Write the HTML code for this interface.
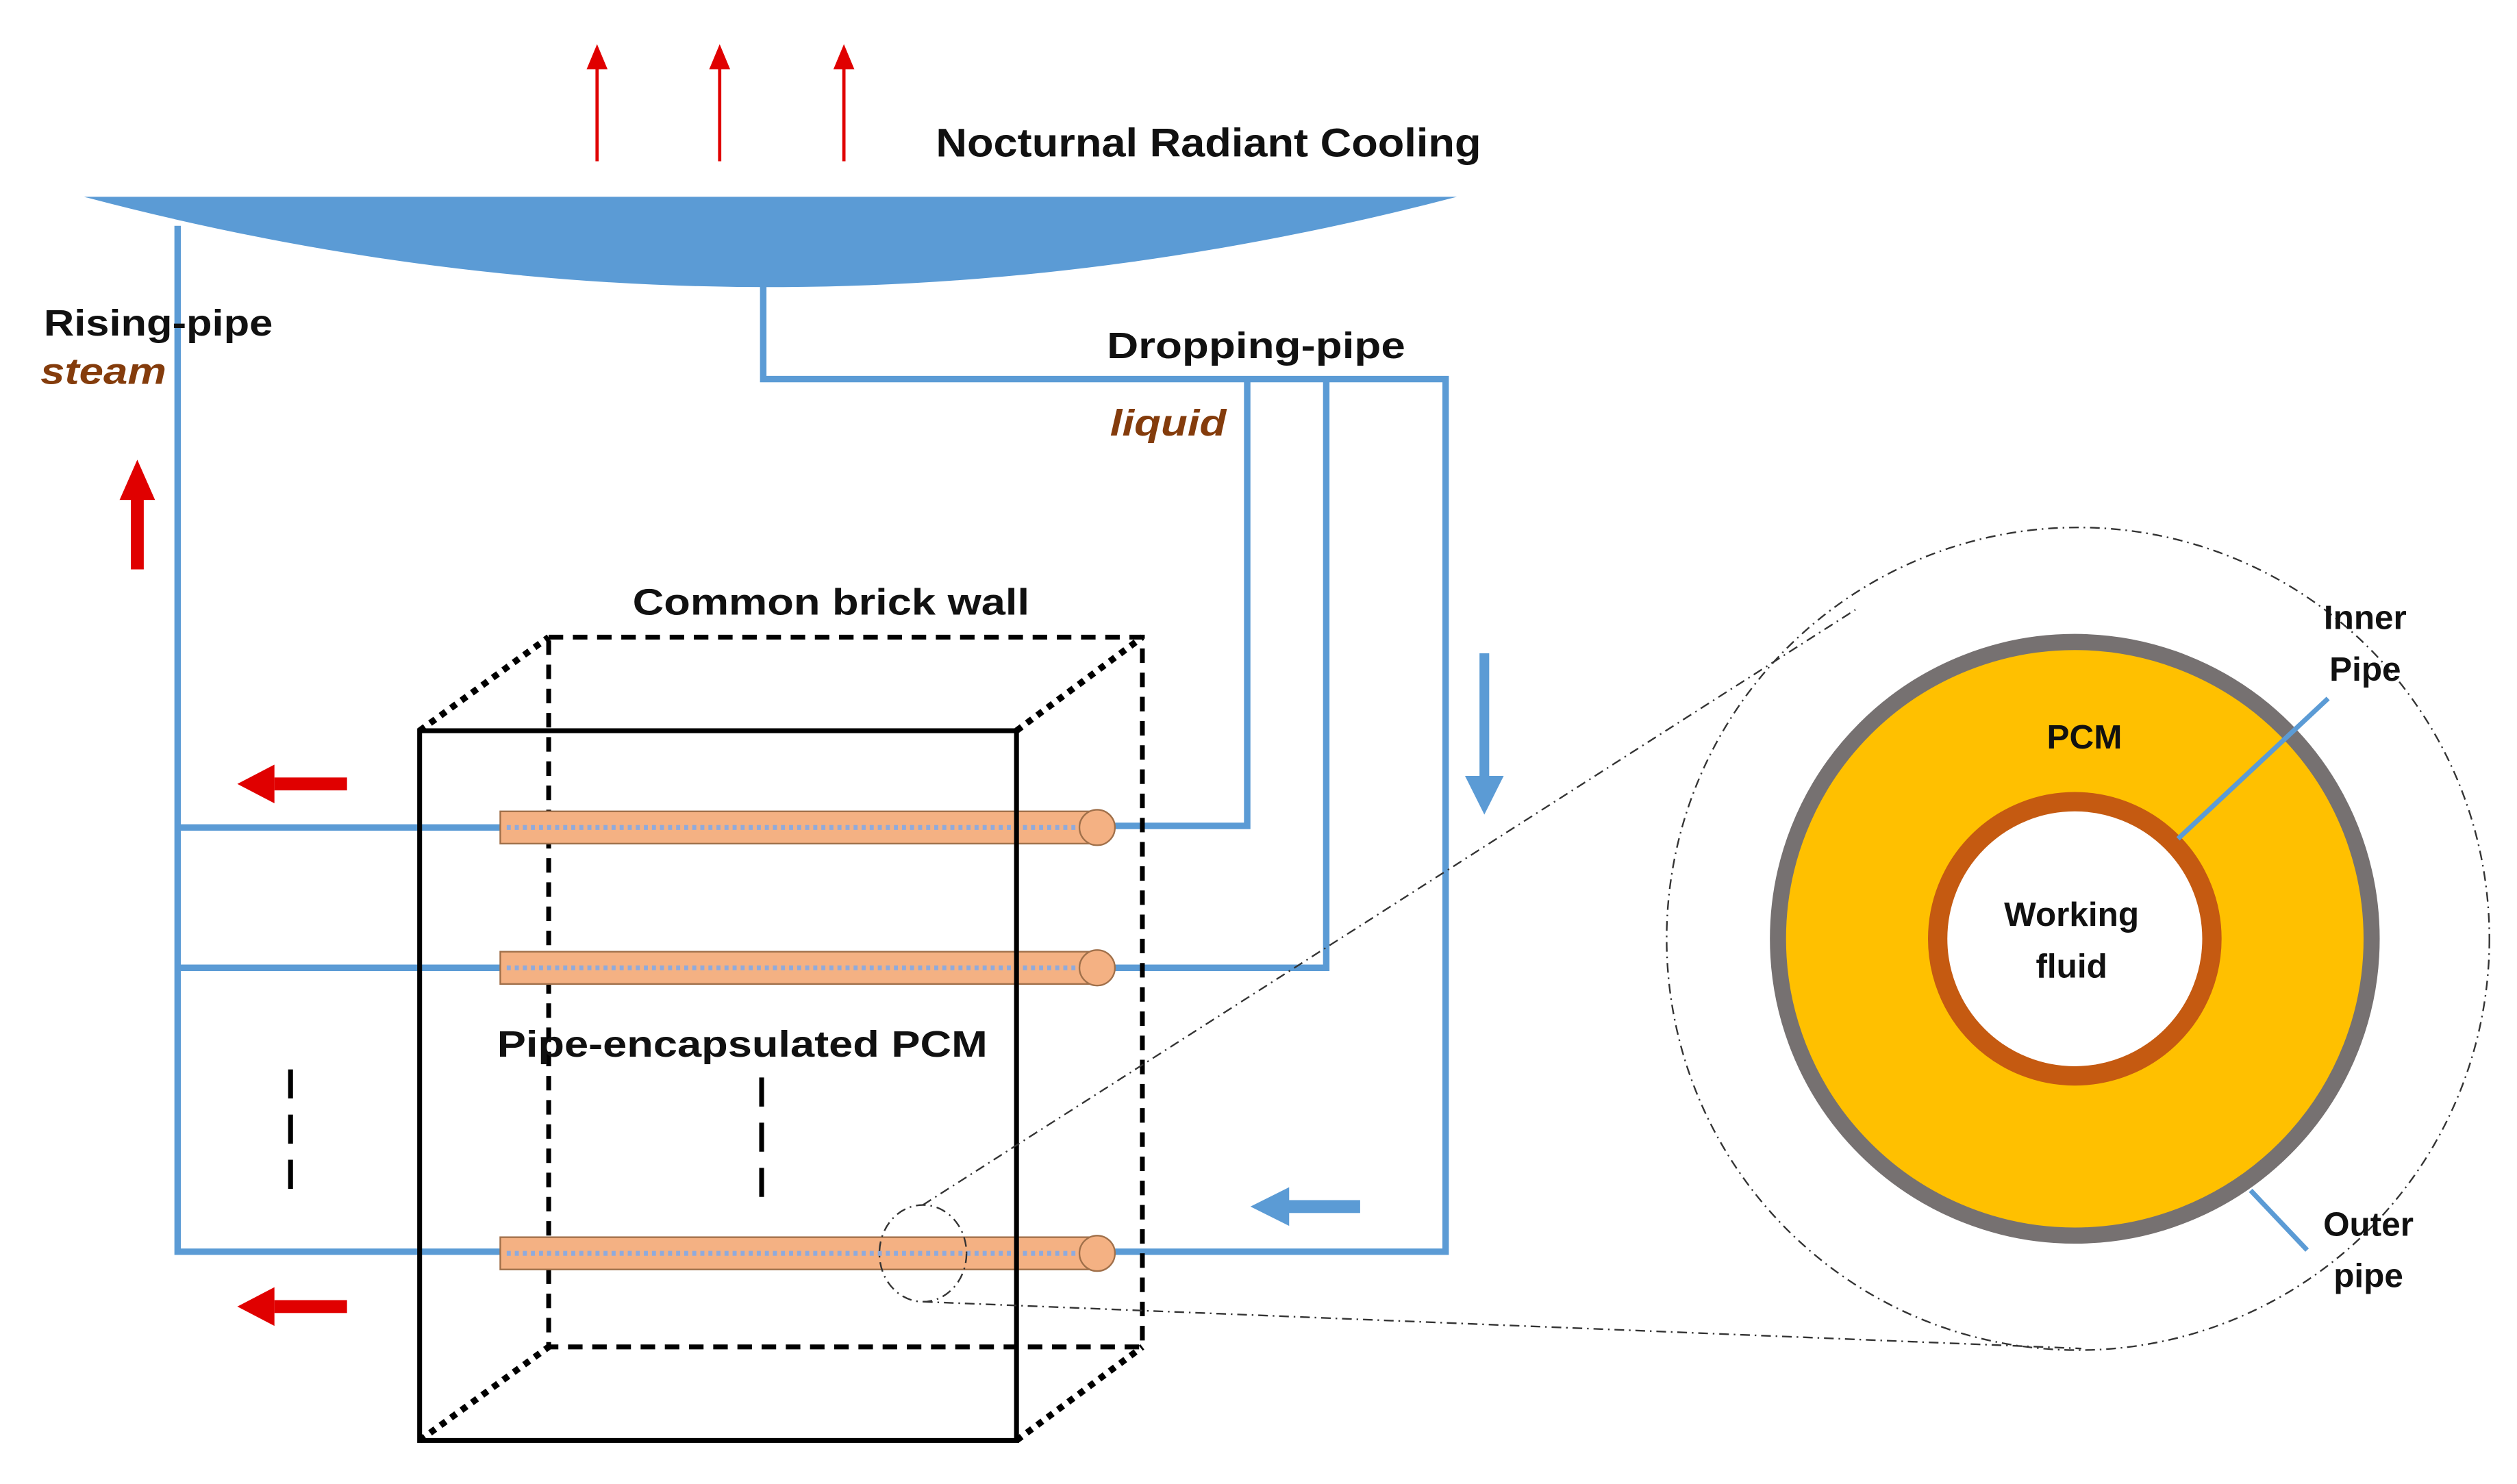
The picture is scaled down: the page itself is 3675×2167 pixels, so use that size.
<!DOCTYPE html>
<html><head><meta charset="utf-8"><style>html,body{margin:0;padding:0;background:#fff}svg{display:block}</style></head>
<body>
<svg width="3675" height="2167" viewBox="0 0 1560 920" xmlns="http://www.w3.org/2000/svg" font-family="'Liberation Sans', sans-serif" font-weight="bold">
<rect width="1560" height="920" fill="#fff"/>
<!-- thin red arrows -->
<g stroke="#e00000" stroke-width="2" fill="#e00000">
<line x1="370" y1="100" x2="370" y2="40"/><polygon points="365,42 375,42 370,30" />
<line x1="446" y1="100" x2="446" y2="40"/><polygon points="441,42 451,42 446,30" />
<line x1="523" y1="100" x2="523" y2="40"/><polygon points="518,42 528,42 523,30" />
</g>
<text x="580" y="97" font-size="25" textLength="338" lengthAdjust="spacingAndGlyphs" fill="#111">Nocturnal Radiant Cooling</text>
<!-- dish -->
<path d="M52,122 L903,122 Q475,234 52,122 Z" fill="#5b9bd5"/>
<!-- pipes -->
<g stroke="#5b9bd5" stroke-width="4" fill="none">
<polyline points="110,140 110,776 310,776"/>
<line x1="110" y1="513" x2="310" y2="513"/>
<line x1="110" y1="600" x2="310" y2="600"/>
<polyline points="473,175 473,235 896,235 896,776 690,776"/>
<polyline points="773,235 773,512 690,512"/>
<polyline points="822,235 822,600 690,600"/>
</g>
<text x="27" y="208" font-size="23" textLength="142" lengthAdjust="spacingAndGlyphs" fill="#111">Rising-pipe</text>
<text x="25" y="238" font-size="23" font-style="italic" textLength="78" lengthAdjust="spacingAndGlyphs" fill="#843c0c">steam</text>
<text x="686" y="222" font-size="23" textLength="185" lengthAdjust="spacingAndGlyphs" fill="#111">Dropping-pipe</text>
<text x="688" y="270" font-size="23" font-style="italic" textLength="72" lengthAdjust="spacingAndGlyphs" fill="#843c0c">liquid</text>
<!-- thick arrows -->
<g fill="#e00000">
<rect x="81" y="306" width="8" height="47"/><polygon points="74,310 96,310 85,285"/>
<rect x="170" y="482" width="45" height="8"/><polygon points="170,474 170,498 147,486"/>
<rect x="170" y="806" width="45" height="8"/><polygon points="170,798 170,822 147,810"/>
</g>
<g fill="#5b9bd5">
<rect x="917" y="405" width="6" height="78"/><polygon points="908,481 932,481 920,505"/>
<rect x="797" y="744" width="46" height="8"/><polygon points="799,736 799,760 775,748"/>
</g>
<!-- box -->
<g stroke="#000" fill="none">
<rect x="340" y="395" width="368" height="440" stroke-width="3" stroke-dasharray="9,6"/>
<g stroke-width="4" stroke-dasharray="4,4">
<line x1="260" y1="453" x2="340" y2="395"/><line x1="630" y1="453" x2="708" y2="395"/>
<line x1="260" y1="893" x2="340" y2="835"/><line x1="630" y1="893" x2="708" y2="835"/>
</g>
<line x1="180" y1="663" x2="180" y2="740" stroke-width="3" stroke-dasharray="18,10"/>
<line x1="472" y1="668" x2="472" y2="745" stroke-width="3" stroke-dasharray="18,10"/>
</g>
<!-- PCM pipes -->
<g>
<g id="p1">
<rect x="310" y="503" width="370" height="20" fill="#f4b183" stroke="#a0704a" stroke-width="1"/>
<line x1="314" y1="513" x2="672" y2="513" stroke="#8faadc" stroke-width="3" stroke-dasharray="2.5,2.5"/>
<ellipse cx="680" cy="513" rx="11" ry="11" fill="#f4b183" stroke="#a0704a" stroke-width="1"/>
</g>
<use href="#p1" y="87"/>
<use href="#p1" y="264"/>
</g>
<rect x="260" y="453" width="370" height="440" fill="none" stroke="#000" stroke-width="3"/>
<text x="515" y="381" font-size="23" text-anchor="middle" textLength="246" lengthAdjust="spacingAndGlyphs" fill="#111">Common brick wall</text>
<text x="308" y="655" font-size="23" textLength="304" lengthAdjust="spacingAndGlyphs" fill="#111">Pipe-encapsulated PCM</text>
<!-- zoom lines -->
<g fill="none" stroke="#333" stroke-width="1" stroke-dasharray="6,3,1,3">
<ellipse cx="572" cy="777" rx="27" ry="30"/>
<line x1="572" y1="747" x2="1150" y2="378"/>
<line x1="572" y1="807" x2="1290" y2="836"/>
<circle cx="1288" cy="582" r="255"/>
</g>
<!-- cross-section -->
<circle cx="1286" cy="582" r="184" fill="#ffc000" stroke="#767171" stroke-width="10"/>
<circle cx="1286" cy="582" r="85" fill="#fff" stroke="#c55a11" stroke-width="12"/>
<g stroke="#5b9bd5" stroke-width="3">
<line x1="1350" y1="520" x2="1443" y2="433"/>
<line x1="1395" y1="738" x2="1430" y2="775"/>
</g>
<g font-size="21" fill="#111" text-anchor="middle">
<text x="1292" y="464">PCM</text>
<text x="1284" y="574">Working</text>
<text x="1284" y="606">fluid</text>
<text x="1466" y="390">Inner</text>
<text x="1466" y="422">Pipe</text>
<text x="1468" y="766">Outer</text>
<text x="1468" y="798">pipe</text>
</g>
</svg>
</body></html>
